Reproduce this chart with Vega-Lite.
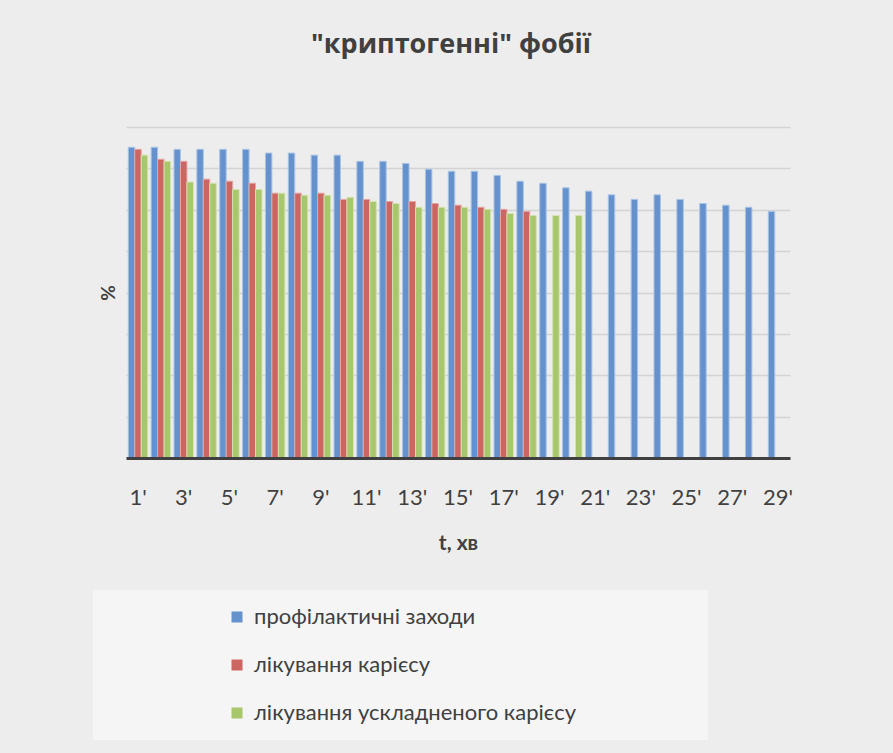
{
  "$schema": "https://vega.github.io/schema/vega-lite/v6.json",
  "width": 664,
  "height": 331,
  "autosize": {"type": "none"},
  "padding": {"left": 126, "top": 127, "right": 103, "bottom": 295},
  "background": "#ededed",
  "config": {"view": {"stroke": null}, "font": "Lato"},
  "title": {"text": "\"криптогенні\" фобії", "fontSize": 27, "font": "Open Sans", "fontWeight": "bold", "color": "#404040", "offset": 68, "dx": -7, "anchor": "middle"},
  "data": {"values": [
    {"t": 1, "s": "профілактичні заходи", "v": 75.1},
    {"t": 2, "s": "профілактичні заходи", "v": 75.1},
    {"t": 3, "s": "профілактичні заходи", "v": 74.6},
    {"t": 4, "s": "профілактичні заходи", "v": 74.6},
    {"t": 5, "s": "профілактичні заходи", "v": 74.6},
    {"t": 6, "s": "профілактичні заходи", "v": 74.6},
    {"t": 7, "s": "профілактичні заходи", "v": 73.7},
    {"t": 8, "s": "профілактичні заходи", "v": 73.7},
    {"t": 9, "s": "профілактичні заходи", "v": 73.2},
    {"t": 10, "s": "профілактичні заходи", "v": 73.2},
    {"t": 11, "s": "профілактичні заходи", "v": 71.7},
    {"t": 12, "s": "профілактичні заходи", "v": 71.7},
    {"t": 13, "s": "профілактичні заходи", "v": 71.2},
    {"t": 14, "s": "профілактичні заходи", "v": 69.8},
    {"t": 15, "s": "профілактичні заходи", "v": 69.3},
    {"t": 16, "s": "профілактичні заходи", "v": 69.3},
    {"t": 17, "s": "профілактичні заходи", "v": 68.3},
    {"t": 18, "s": "профілактичні заходи", "v": 66.9},
    {"t": 19, "s": "профілактичні заходи", "v": 66.4},
    {"t": 20, "s": "профілактичні заходи", "v": 65.3},
    {"t": 21, "s": "профілактичні заходи", "v": 64.5},
    {"t": 22, "s": "профілактичні заходи", "v": 63.6},
    {"t": 23, "s": "профілактичні заходи", "v": 62.5},
    {"t": 24, "s": "профілактичні заходи", "v": 63.6},
    {"t": 25, "s": "профілактичні заходи", "v": 62.5},
    {"t": 26, "s": "профілактичні заходи", "v": 61.5},
    {"t": 27, "s": "профілактичні заходи", "v": 61.1},
    {"t": 28, "s": "профілактичні заходи", "v": 60.6},
    {"t": 29, "s": "профілактичні заходи", "v": 59.6},
    {"t": 1, "s": "лікування карієсу", "v": 74.6},
    {"t": 2, "s": "лікування карієсу", "v": 72.2},
    {"t": 3, "s": "лікування карієсу", "v": 71.7},
    {"t": 4, "s": "лікування карієсу", "v": 67.4},
    {"t": 5, "s": "лікування карієсу", "v": 66.9},
    {"t": 6, "s": "лікування карієсу", "v": 66.4},
    {"t": 7, "s": "лікування карієсу", "v": 64.0},
    {"t": 8, "s": "лікування карієсу", "v": 64.0},
    {"t": 9, "s": "лікування карієсу", "v": 64.0},
    {"t": 10, "s": "лікування карієсу", "v": 62.5},
    {"t": 11, "s": "лікування карієсу", "v": 62.5},
    {"t": 12, "s": "лікування карієсу", "v": 62.0},
    {"t": 13, "s": "лікування карієсу", "v": 62.0},
    {"t": 14, "s": "лікування карієсу", "v": 61.5},
    {"t": 15, "s": "лікування карієсу", "v": 61.1},
    {"t": 16, "s": "лікування карієсу", "v": 60.6},
    {"t": 17, "s": "лікування карієсу", "v": 60.1},
    {"t": 18, "s": "лікування карієсу", "v": 59.6},
    {"t": 1, "s": "лікування ускладненого карієсу", "v": 73.2},
    {"t": 2, "s": "лікування ускладненого карієсу", "v": 71.7},
    {"t": 3, "s": "лікування ускладненого карієсу", "v": 66.7},
    {"t": 4, "s": "лікування ускладненого карієсу", "v": 66.4},
    {"t": 5, "s": "лікування ускладненого карієсу", "v": 64.9},
    {"t": 6, "s": "лікування ускладненого карієсу", "v": 64.9},
    {"t": 7, "s": "лікування ускладненого карієсу", "v": 64.0},
    {"t": 8, "s": "лікування ускладненого карієсу", "v": 63.5},
    {"t": 9, "s": "лікування ускладненого карієсу", "v": 63.5},
    {"t": 10, "s": "лікування ускладненого карієсу", "v": 63.0},
    {"t": 11, "s": "лікування ускладненого карієсу", "v": 62.0},
    {"t": 12, "s": "лікування ускладненого карієсу", "v": 61.5},
    {"t": 13, "s": "лікування ускладненого карієсу", "v": 60.6},
    {"t": 14, "s": "лікування ускладненого карієсу", "v": 60.6},
    {"t": 15, "s": "лікування ускладненого карієсу", "v": 60.6},
    {"t": 16, "s": "лікування ускладненого карієсу", "v": 60.1},
    {"t": 17, "s": "лікування ускладненого карієсу", "v": 59.1},
    {"t": 18, "s": "лікування ускладненого карієсу", "v": 58.6},
    {"t": 19, "s": "лікування ускладненого карієсу", "v": 58.6},
    {"t": 20, "s": "лікування ускладненого карієсу", "v": 58.6}
  ]},
  "mark": {"type": "bar", "strokeWidth": 1},
  "encoding": {
    "x": {
      "field": "t", "type": "ordinal",
      "scale": {"paddingInner": 0.15, "paddingOuter": 0.1},
      "axis": {
        "values": [1, 3, 5, 7, 9, 11, 13, 15, 17, 19, 21, 23, 25, 27, 29],
        "labelExpr": "datum.value + \"'\"",
        "labelAngle": 0, "labelFontSize": 22, "labelColor": "#404040", "labelPadding": 29,
        "ticks": false, "grid": false, "domainColor": "#404040", "domainWidth": 3, "zindex": 1,
        "title": "t, хв", "titleFontSize": 21, "titleFontWeight": "bold", "titleColor": "#404040", "titlePadding": 24
      }
    },
    "xOffset": {"field": "s", "type": "nominal", "sort": ["профілактичні заходи", "лікування карієсу", "лікування ускладненого карієсу"]},
    "y": {
      "field": "v", "type": "quantitative",
      "scale": {"domain": [0, 80]},
      "axis": {
        "values": [0, 10, 20, 30, 40, 50, 60, 70, 80],
        "labels": false, "ticks": false, "domain": false,
        "gridColor": "#d3d3d3", "gridWidth": 1.5,
        "title": "%", "titleFontSize": 19, "titleFontWeight": "bold", "titleColor": "#404040", "titlePadding": 8
      }
    },
    "color": {
      "field": "s", "type": "nominal",
      "scale": {"domain": ["профілактичні заходи", "лікування карієсу", "лікування ускладненого карієсу"], "range": ["#6592cd", "#cc6662", "#a8c66c"]},
      "legend": {
        "orient": "none", "legendX": -33, "legendY": 463, "direction": "vertical",
        "title": " ", "titleOrient": "right", "titlePadding": 116, "titleFontSize": 10,
        "fillColor": "#f5f5f5", "padding": 16, "symbolType": "square", "symbolSize": 121,
        "symbolStrokeWidth": 0, "labelFontSize": 22, "labelColor": "#404040", "labelOffset": 6,
        "rowPadding": 26, "symbolOffset": 117, "labelLimit": 500
      }
    },
    "stroke": {
      "field": "s", "type": "nominal",
      "scale": {"domain": ["профілактичні заходи", "лікування карієсу", "лікування ускладненого карієсу"], "range": ["#a9c4e6", "#e6a5a3", "#d3e3ae"]},
      "legend": null
    }
  }
}
